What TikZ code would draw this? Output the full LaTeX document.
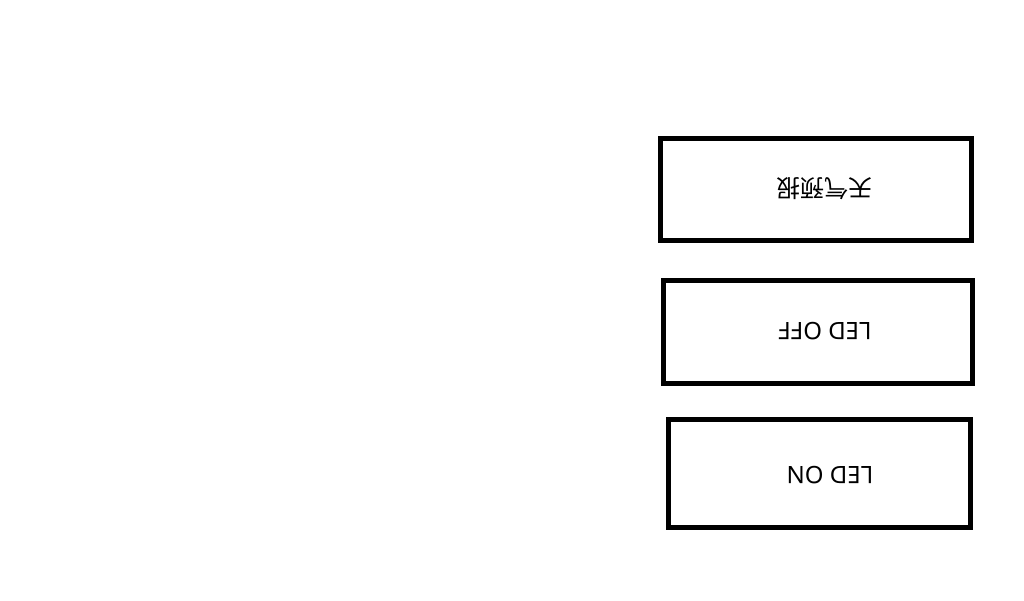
\documentclass[tikz,border=0pt]{standalone}
\usepackage{fontspec}
\setmainfont{Noto Sans}
\newfontfamily\cjk{Noto Sans CJK SC}
\begin{document}
\begin{tikzpicture}[x=1pt,y=-1pt,
  boxline/.style={draw=black,line width=5pt},
  lbl/.style={rotate=180,font=\fontsize{24}{27}\selectfont,inner sep=0pt}]
\useasboundingbox[fill=white] (0,0) rectangle (1024,600);
\draw[boxline] (660.5,138.5) rectangle (971.5,240.5);
\draw[boxline] (663.5,280.5) rectangle (972.5,383.5);
\draw[boxline] (668.5,419.5) rectangle (970.5,527.5);
\node[lbl] (t1) at (824,189) {\cjk 天气预报};
\node[lbl] (t2) at (825,331) {LED OFF};
\node[lbl] (t3) at (830,475) {LED ON};
\end{tikzpicture}
\end{document}
